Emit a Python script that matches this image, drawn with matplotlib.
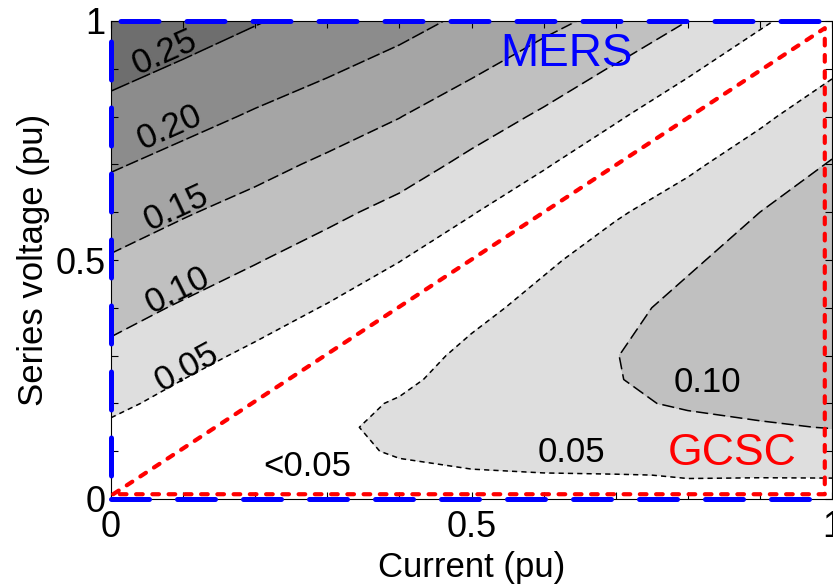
import numpy as np
import matplotlib
matplotlib.use('Agg')
import matplotlib.pyplot as plt

# grid
current = [0.0, 0.1, 0.2, 0.3, 0.4, 0.5, 0.6, 0.7, 0.8, 0.9, 1.0]
voltage = [0.0, 0.05, 0.1, 0.15, 0.2, 0.25, 0.3, 0.4, 0.5, 0.6, 0.7, 0.8, 0.9, 1.0]

# loss (x0.01), one list per current value, voltage going up
loss_cols = [
    [0.0, 1.5, 3.0, 4.4, 5.9, 7.4, 8.9, 11.7, 14.6, 17.5, 20.5, 23.4, 26.4, 29.3],
    [2.0, 1.5, 1.0, 2.3, 3.7, 5.0, 6.5, 9.5, 12.5, 15.4, 18.5, 21.5, 24.4, 27.4],
    [3.0, 2.5, 2.0, 1.5, 1.0, 2.5, 4.1, 7.2, 10.3, 13.4, 16.4, 19.5, 22.4, 25.3],
    [3.0, 3.8, 4.2, 4.2, 3.5, 2.5, 1.5, 4.7, 7.9, 11.1, 14.2, 17.4, 20.6, 23.4],
    [3.5, 4.3, 5.3, 6.0, 5.4, 4.0, 2.8, 1.5, 5.15, 8.6, 12.1, 15.1, 18.4, 21.6],
    [3.8, 4.6, 6.2, 7.2, 7.4, 7.0, 6.2, 3.6, 1.5, 5.3, 8.9, 12.3, 15.7, 19.0],
    [4.0, 4.8, 7.0, 8.4, 8.9, 8.8, 8.3, 6.6, 4.2, 1.5, 5.5, 9.3, 12.8, 16.2],
    [4.2, 4.9, 7.5, 8.9, 9.6, 9.9, 9.95, 9.2, 7.2, 4.5, 1.5, 5.6, 9.6, 13.6],
    [4.4, 5.1, 7.8, 9.3, 10.3, 10.8, 11.0, 10.8, 9.6, 7.2, 4.2, 1.5, 5.8, 10.0],
    [4.6, 5.05, 8.0, 9.7, 10.8, 11.4, 11.7, 11.9, 11.2, 10.0, 7.3, 4.2, 1.5, 5.8],
    [4.65, 5.05, 8.2, 10.1, 11.2, 11.9, 12.3, 12.6, 12.3, 11.5, 10.3, 7.6, 4.3, 1.5],
]

levels = [0.05, 0.10, 0.15, 0.20, 0.25]
fill_levels = [0.0, 0.05, 0.10, 0.15, 0.20, 0.25, 0.35]
grays = ['#ffffff', '#dedede', '#c0c0c0', '#a5a5a5', '#8c8c8c', '#6e6e6e']

gcsc_x = [0.003, 0.99, 0.99, 0.003]
gcsc_y = [0.01, 0.985, 0.01, 0.01]

tick_pos = [0.0, 0.1, 0.2, 0.3, 0.4, 0.5, 0.6, 0.7, 0.8, 0.9, 1.0]
tick_labels = ['0', '', '', '', '', '0.5', '', '', '', '', '1']

plt.rcParams['font.family'] = ['Liberation Sans', 'DejaVu Sans']

fig = plt.figure(figsize=(8.33, 5.84), dpi=100)
ax = fig.add_axes([111/833, 85/584, 721/833, 478/584])

Z = np.array(loss_cols).T / 100
ax.contourf(current, voltage, Z, levels=fill_levels, colors=grays)
ax.contour(current, voltage, Z, levels=levels, colors='k', linewidths=1.1,
           linestyles=[(0, (3.4, 2.7)), (0, (8, 3.3)), (0, (7.5, 2.8)),
                       (0, (8.5, 2.3)), (0, (13, 2))])

# MERS boundary (left, top, bottom)
ax.plot([0, 0], [1, 0], color='b', lw=3.6, ls=(9.1, (7.6, 5.6)),
        dash_capstyle='round', clip_on=False, zorder=5)
ax.plot([0, 1], [1, 1], color='b', lw=3.6, ls=(11.3, (7.6, 5.6)),
        dash_capstyle='round', clip_on=False, zorder=5)
ax.plot([0, 1], [0, 0], color='b', lw=3.6, ls=(0, (7.6, 5.6)),
        dash_capstyle='round', clip_on=False, zorder=5)

# GCSC triangle
ax.plot(gcsc_x, gcsc_y, color='r', lw=3.0, ls=(0, (1.6, 2.3)),
        dash_capstyle='round', clip_on=False, zorder=6)

# contour labels
ax.text(0.074, 0.935, '0.25', fontsize=25, rotation=24, ha='center', va='center', rotation_mode='anchor')
ax.text(0.082, 0.778, '0.20', fontsize=25, rotation=24, ha='center', va='center', rotation_mode='anchor')
ax.text(0.090, 0.609, '0.15', fontsize=25, rotation=25, ha='center', va='center', rotation_mode='anchor')
ax.text(0.093, 0.437, '0.10', fontsize=25, rotation=26.5, ha='center', va='center', rotation_mode='anchor')
ax.text(0.105, 0.276, '0.05', fontsize=25, rotation=28.5, ha='center', va='center', rotation_mode='anchor')
ax.text(0.827, 0.243, '0.10', fontsize=25, ha='center', va='center')
ax.text(0.638, 0.098, '0.05', fontsize=25, ha='center', va='center')
ax.text(0.272, 0.067, '<0.05', fontsize=25, ha='center', va='center')

ax.text(0.632, 0.931, 'MERS', color='b', fontsize=33, ha='center', va='center')
ax.text(0.861, 0.095, 'GCSC', color='r', fontsize=32, ha='center', va='center')

ax.set_xlim(0, 1)
ax.set_ylim(0, 1)
ax.set_xticks(tick_pos)
ax.set_xticklabels(tick_labels)
ax.set_yticks(tick_pos)
ax.set_yticklabels(tick_labels)
ax.tick_params(direction='in', length=5, width=0.8, top=True, right=True,
               labelsize=26)
ax.tick_params(axis='x', pad=8)
ax.tick_params(axis='y', pad=4)
for s in ax.spines.values():
    s.set_linewidth(0.8)

ax.set_xlabel('Current (pu)', fontsize=25, labelpad=4)
ax.set_ylabel('Series voltage (pu)', fontsize=25, labelpad=4)

fig.savefig('out.png', dpi=100)
